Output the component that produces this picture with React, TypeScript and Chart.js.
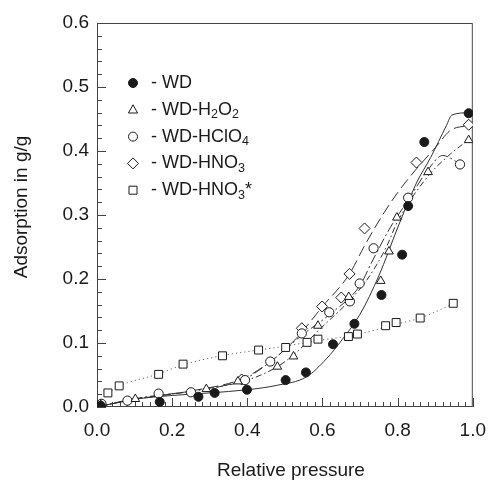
import React, { useEffect, useRef } from "react";
import { Chart, registerables } from "chart.js";

Chart.register(...registerables);

// ---- measured points ----
const wdX = [0.01, 0.167, 0.27, 0.313, 0.399, 0.502, 0.556, 0.628, 0.685, 0.757, 0.812, 0.828, 0.871, 0.989];
const wdY = [0.002, 0.008, 0.016, 0.022, 0.027, 0.042, 0.054, 0.098, 0.13, 0.175, 0.238, 0.314, 0.414, 0.459];

const h2o2X = [0.01, 0.102, 0.291, 0.375, 0.48, 0.523, 0.588, 0.67, 0.755, 0.777, 0.798, 0.881, 0.989];
const h2o2Y = [0.003, 0.0125, 0.028, 0.04, 0.063, 0.079, 0.127, 0.172, 0.197, 0.243, 0.296, 0.367, 0.417];

const hclo4X = [0.012, 0.081, 0.164, 0.25, 0.394, 0.461, 0.545, 0.618, 0.673, 0.699, 0.736, 0.828, 0.966];
const hclo4Y = [0.005, 0.01, 0.021, 0.023, 0.042, 0.071, 0.115, 0.148, 0.165, 0.193, 0.248, 0.327, 0.379];

const hno3X = [0.01, 0.385, 0.545, 0.599, 0.65, 0.672, 0.712, 0.85, 0.989];
const hno3Y = [0.004, 0.043, 0.123, 0.157, 0.171, 0.208, 0.279, 0.382, 0.441];

const hno3sX = [0.008, 0.029, 0.059, 0.164, 0.229, 0.334, 0.43, 0.502, 0.559, 0.588, 0.669, 0.693, 0.768, 0.796, 0.86, 0.948];
const hno3sY = [0.004, 0.022, 0.033, 0.051, 0.067, 0.08, 0.089, 0.093, 0.101, 0.106, 0.11, 0.114, 0.127, 0.132, 0.139, 0.162];

// ---- fitted curves ----
const wdCurveX = [0, 0.1, 0.2, 0.3, 0.4, 0.48, 0.557, 0.61, 0.652, 0.7, 0.75, 0.8, 0.85, 0.888, 0.93, 0.944, 0.99];
const wdCurveY = [0, 0.012, 0.018, 0.022, 0.027, 0.034, 0.047, 0.075, 0.105, 0.145, 0.205, 0.28, 0.35, 0.39, 0.44, 0.456, 0.46];

const h2o2CurveX = [0, 0.1, 0.29, 0.4, 0.48, 0.53, 0.59, 0.67, 0.72, 0.77, 0.8, 0.88, 0.94, 0.99];
const h2o2CurveY = [0, 0.012, 0.028, 0.042, 0.063, 0.085, 0.12, 0.165, 0.2, 0.25, 0.29, 0.36, 0.395, 0.418];

const hclo4CurveX = [0, 0.1, 0.25, 0.39, 0.46, 0.545, 0.62, 0.7, 0.73, 0.78, 0.83, 0.88, 0.92, 0.966];
const hclo4CurveY = [0, 0.013, 0.025, 0.043, 0.07, 0.112, 0.145, 0.19, 0.225, 0.28, 0.325, 0.37, 0.393, 0.38];

const hno3CurveX = [0, 0.1, 0.25, 0.39, 0.47, 0.53, 0.6, 0.672, 0.71, 0.76, 0.8, 0.85, 0.9, 0.94, 0.99];
const hno3CurveY = [0, 0.012, 0.025, 0.045, 0.075, 0.107, 0.157, 0.208, 0.25, 0.3, 0.335, 0.372, 0.405, 0.432, 0.44];

const hno3sCurveX = [0.03, 0.06, 0.16, 0.23, 0.33, 0.43, 0.5, 0.59, 0.69, 0.8, 0.86, 0.95];
const hno3sCurveY = [0.022, 0.033, 0.051, 0.066, 0.08, 0.089, 0.095, 0.104, 0.113, 0.13, 0.139, 0.162];

// ---- ticks & labels ----
const xTickValues = [0, 0.2, 0.4, 0.6, 0.8, 1.0];
const xTickLabels = ["0.0", "0.2", "0.4", "0.6", "0.8", "1.0"];
const yTickValues = [0, 0.1, 0.2, 0.3, 0.4, 0.5, 0.6];
const yTickLabels = ["0.0", "0.1", "0.2", "0.3", "0.4", "0.5", "0.6"];
const xTitle = "Relative pressure";
const yTitle = "Adsorption in g/g";
const legendLabels = ["- WD", "- WD-H_2O_2", "- WD-HClO_4", "- WD-HNO_3", "- WD-HNO_3*"];
const legendMarkers = ["filledCircle", "triangle", "circle", "diamond", "square"];

const FONT = "'Liberation Sans', Arial, sans-serif";
const INK = "#1a1a1a";

const pts = (xs: number[], ys: number[]) => xs.map((x, i) => ({ x, y: ys[i] }));

function drawMarker(ctx: CanvasRenderingContext2D, kind: string, x: number, y: number) {
  ctx.save();
  ctx.lineWidth = 1;
  ctx.strokeStyle = INK;
  ctx.fillStyle = kind === "filledCircle" ? INK : "#fff";
  ctx.beginPath();
  if (kind === "filledCircle" || kind === "circle") {
    ctx.arc(x, y, 4.5, 0, Math.PI * 2);
  } else if (kind === "triangle") {
    ctx.moveTo(x, y - 5);
    ctx.lineTo(x + 4.6, y + 3.2);
    ctx.lineTo(x - 4.6, y + 3.2);
    ctx.closePath();
  } else if (kind === "diamond") {
    ctx.moveTo(x, y - 5.5);
    ctx.lineTo(x + 5.5, y);
    ctx.lineTo(x, y + 5.5);
    ctx.lineTo(x - 5.5, y);
    ctx.closePath();
  } else {
    ctx.rect(x - 4, y - 4, 8, 8);
  }
  ctx.fill();
  ctx.stroke();
  ctx.restore();
}

const framePlugin = {
  id: "frameTicks",
  beforeDatasetsDraw(chart: any) {
    const { ctx, chartArea } = chart;
    const { left, right, top, bottom } = chartArea;
    const xs = chart.scales.x;
    const ys = chart.scales.y;
    ctx.save();
    ctx.strokeStyle = "#444";
    ctx.lineWidth = 1;
    ctx.strokeRect(left + 0.5, top + 0.5, right - left - 1, bottom - top - 1);
    ctx.beginPath();
    for (let i = 0; i <= 50; i++) {
      const v = i * 0.02;
      const px = Math.round(xs.getPixelForValue(v)) + 0.5;
      const len = i % 10 === 0 ? 9 : 5;
      ctx.moveTo(px, bottom);
      ctx.lineTo(px, bottom - len);
    }
    for (let i = 0; i <= 30; i++) {
      const v = i * 0.02;
      const py = Math.round(ys.getPixelForValue(v)) + 0.5;
      const len = i % 5 === 0 ? 9 : 5;
      ctx.moveTo(left, py);
      ctx.lineTo(left + len, py);
    }
    ctx.stroke();
    ctx.restore();
  },
  afterDraw(chart: any) {
    const { ctx } = chart;
    // axis titles
    ctx.save();
    ctx.fillStyle = INK;
    ctx.font = `19px ${FONT}`;
    ctx.textAlign = "center";
    ctx.textBaseline = "alphabetic";
    ctx.fillText(xTitle, 291, 476);
    ctx.translate(26.5, 207);
    ctx.rotate(-Math.PI / 2);
    ctx.fillText(yTitle, 0, 0);
    ctx.restore();

    // legend
    const mx = 133;
    const tx = 151;
    const y0 = 83;
    const dy = 26.8;
    ctx.save();
    ctx.fillStyle = INK;
    ctx.textBaseline = "middle";
    ctx.textAlign = "left";
    legendLabels.forEach((label, i) => {
      const y = y0 + i * dy;
      drawMarker(ctx, legendMarkers[i], mx, y);
      let x = tx;
      let k = 0;
      while (k < label.length) {
        if (label[k] === "_" && k + 1 < label.length) {
          ctx.font = `12.5px ${FONT}`;
          ctx.fillText(label[k + 1], x, y + 5);
          x += ctx.measureText(label[k + 1]).width;
          k += 2;
        } else {
          let j = k;
          while (j < label.length && label[j] !== "_") j++;
          const part = label.slice(k, j);
          ctx.font = `18px ${FONT}`;
          ctx.fillText(part, x, y);
          x += ctx.measureText(part).width;
          k = j;
        }
      }
    });
    ctx.restore();
  },
};

const markerDs = (label: string, data: any[], style: string, radius: number, filled: boolean) => ({
  label,
  data,
  showLine: false,
  pointStyle: style,
  pointRadius: radius,
  pointHoverRadius: radius,
  pointBorderWidth: 1,
  pointBorderColor: INK,
  pointBackgroundColor: filled ? INK : "#fff",
  order: 0,
});

const curveDs = (label: string, data: any[], dash: number[], color = "#333") => ({
  label,
  data,
  showLine: true,
  pointRadius: 0,
  borderColor: color,
  borderWidth: 1,
  borderDash: dash,
  cubicInterpolationMode: "monotone",
  fill: false,
  order: 5,
});

export default function App() {
  const ref = useRef<HTMLCanvasElement | null>(null);
  useEffect(() => {
    document.body.style.margin = "0";
    const canvas = ref.current;
    if (!canvas) return;
    const chart = new Chart(canvas, {
      type: "scatter",
      data: {
        datasets: [
          markerDs("WD", pts(wdX, wdY), "circle", 4.5, true),
          markerDs("WD-H2O2", pts(h2o2X, h2o2Y), "triangle", 5, false),
          markerDs("WD-HClO4", pts(hclo4X, hclo4Y), "circle", 4.6, false),
          markerDs("WD-HNO3", pts(hno3X, hno3Y), "rectRot", 5.5, false),
          markerDs("WD-HNO3*", pts(hno3sX, hno3sY), "rect", 5.6, false),
          curveDs("WD fit", pts(wdCurveX, wdCurveY), []),
          curveDs("WD-H2O2 fit", pts(h2o2CurveX, h2o2CurveY), [6, 3, 1.5, 3]),
          curveDs("WD-HClO4 fit", pts(hclo4CurveX, hclo4CurveY), [10, 3, 2, 3]),
          curveDs("WD-HNO3 fit", pts(hno3CurveX, hno3CurveY), [11, 5]),
          curveDs("WD-HNO3* fit", pts(hno3sCurveX, hno3sCurveY), [1.2, 3], "#666"),
        ] as any,
      },
      options: {
        animation: false,
        responsive: false,
        devicePixelRatio: 1,
        layout: { padding: { left: 0, top: 23, right: 13, bottom: 0 } },
        plugins: { legend: { display: false }, tooltip: { enabled: false } },
        scales: {
          x: {
            type: "linear",
            min: 0,
            max: 1,
            grid: { display: false, drawTicks: false, tickLength: 0 },
            border: { display: false },
            afterBuildTicks: (s: any) => {
              s.ticks = xTickValues.map((v) => ({ value: v }));
            },
            afterFit: (s: any) => {
              s.height = 73;
            },
            ticks: {
              autoSkip: false,
              maxRotation: 0,
              padding: 12,
              color: INK,
              font: { family: FONT, size: 19 },
              callback: (_v: any, i: number) => xTickLabels[i],
            },
            title: { display: false },
          },
          y: {
            type: "linear",
            min: 0,
            max: 0.6,
            grid: { display: false, drawTicks: false, tickLength: 0 },
            border: { display: false },
            afterBuildTicks: (s: any) => {
              s.ticks = yTickValues.map((v) => ({ value: v }));
            },
            afterFit: (s: any) => {
              s.width = 97;
            },
            ticks: {
              autoSkip: false,
              padding: 8,
              color: INK,
              font: { family: FONT, size: 19 },
              callback: (_v: any, i: number) => yTickLabels[i],
            },
            title: { display: false },
          },
        },
      } as any,
      plugins: [framePlugin],
    });
    return () => chart.destroy();
  }, []);
  return (
    <canvas ref={ref} width={498} height={480} style={{ display: "block", width: 498, height: 480 }} />
  );
}
